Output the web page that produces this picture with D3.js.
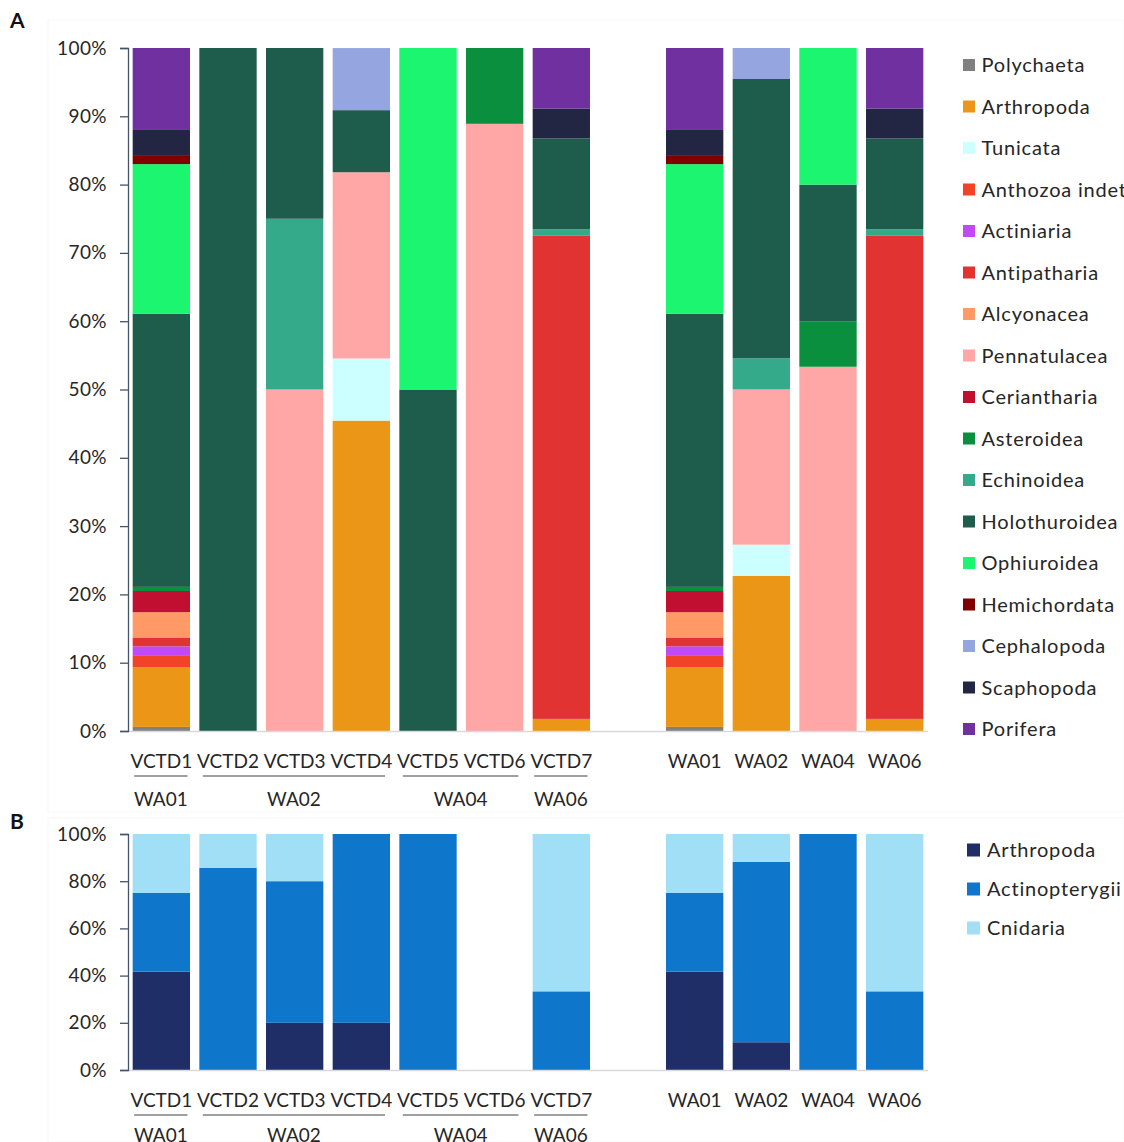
<!DOCTYPE html>
<html><head><meta charset="utf-8">
<script src="https://cdn.jsdelivr.net/npm/d3@7"></script>
<style>
body{margin:0;background:#fff;}
svg{display:block;font-family:Lato,"Open Sans",sans-serif;}
</style></head><body>
<div id="chart"></div>
<script>
// ---------- data ----------
const slots = ["VCTD1","VCTD2","VCTD3","VCTD4","VCTD5","VCTD6","VCTD7","gap","WA01","WA02","WA04","WA06"];
const taxaA = ["Polychaeta","Arthropoda","Tunicata","Anthozoa indet","Actiniaria","Antipatharia","Alcyonacea","Pennatulacea","Ceriantharia","Asteroidea","Echinoidea","Holothuroidea","Ophiuroidea","Hemichordata","Cephalopoda","Scaphopoda","Porifera"];
const colorsA = ["#808080","#EB9616","#CCFFFF","#F04327","#C04AF5","#E23333","#FF9966","#FFA6A6","#C00F31","#098F3E","#35AA8A","#1E5C4C","#1BF570","#800000","#95A5DF","#222643","#7030A0"];
// values (%) per taxon, in order of slots
const polychaeta    = [0.6,0,0,0,0,0,0,0,0.6,0,0,0];
const arthropodaA   = [8.7,0,0,45.45,0,0,1.77,0,8.7,22.73,0,1.77];
const tunicata      = [0,0,0,9.09,0,0,0,0,0,4.55,0,0];
const anthozoaIndet = [1.8,0,0,0,0,0,0,0,1.8,0,0,0];
const actiniaria    = [1.3,0,0,0,0,0,0,0,1.3,0,0,0];
const antipatharia  = [1.3,0,0,0,0,0,70.8,0,1.3,0,0,70.8];
const alcyonacea    = [3.7,0,0,0,0,0,0,0,3.7,0,0,0];
const pennatulacea  = [0,0,50,27.27,0,88.9,0,0,0,22.73,53.33,0];
const ceriantharia  = [3.1,0,0,0,0,0,0,0,3.1,0,0,0];
const asteroidea    = [0.6,0,0,0,0,11.1,0,0,0.6,0,6.67,0];
const echinoidea    = [0,0,25,0,0,0,0.88,0,0,4.55,0,0.88];
const holothuroidea = [40.0,100,25,9.09,50,0,13.3,0,40.0,40.9,20,13.3];
const ophiuroidea   = [21.9,0,0,0,50,0,0,0,21.9,0,20,0];
const hemichordata  = [1.2,0,0,0,0,0,0,0,1.2,0,0,0];
const cephalopoda   = [0,0,0,9.09,0,0,0,0,0,4.54,0,0];
const scaphopoda    = [3.8,0,0,0,0,0,4.4,0,3.8,0,0,4.4];
const porifera      = [12.0,0,0,0,0,0,8.85,0,12.0,0,0,8.85];
const seriesA = [polychaeta,arthropodaA,tunicata,anthozoaIndet,actiniaria,antipatharia,alcyonacea,pennatulacea,ceriantharia,asteroidea,echinoidea,holothuroidea,ophiuroidea,hemichordata,cephalopoda,scaphopoda,porifera];

const taxaB = ["Arthropoda","Actinopterygii","Cnidaria"];
const colorsB = ["#202E68","#0E77CB","#A0DFF6"];
const arthropodaB     = [41.67,0,20,20,0,0,0,0,41.67,11.76,0,0];
const actinopterygii  = [33.33,85.71,60,80,100,0,33.33,0,33.33,76.47,100,33.33];
const cnidaria        = [25,14.29,20,0,0,0,66.67,0,25,11.77,0,66.67];
const seriesB = [arthropodaB,actinopterygii,cnidaria];

const ticksA = [0,10,20,30,40,50,60,70,80,90,100];
const ticksB = [0,20,40,60,80,100];
const groups = [
  {label:"WA01", from:"VCTD1", to:"VCTD1"},
  {label:"WA02", from:"VCTD2", to:"VCTD4"},
  {label:"WA04", from:"VCTD5", to:"VCTD6"},
  {label:"WA06", from:"VCTD7", to:"VCTD7"}
];

// ---------- drawing ----------
const W = 1124, H = 1142;
const svg = d3.select("#chart").append("svg").attr("width",W).attr("height",H);
const textColor = "#262626";

// faint chart area frames
svg.append("rect").attr("x",48).attr("y",20).attr("width",W-48).attr("height",792)
  .attr("fill","none").attr("stroke","#f7f7f7");
svg.append("rect").attr("x",48).attr("y",818).attr("width",W-48).attr("height",H-818)
  .attr("fill","none").attr("stroke","#f7f7f7");

const x = d3.scaleBand().domain(slots).range([128,928]).paddingInner(0.14).paddingOuter(0.07);

function panel(series, colors, taxa, yRange, ticks, letter, letterY, legend, labelY, groupDy) {
  const y = d3.scaleLinear().domain([0,100]).range(yRange);
  const g = svg.append("g");

  // stacked bars
  const rows = slots.map((s,i)=>{ const o={slot:s}; series.forEach((arr,k)=>o[k]=arr[i]); return o; });
  const stack = d3.stack().keys(series.map((_,k)=>k))(rows);
  stack.forEach((layer,k)=>{
    g.append("g").attr("fill",colors[k]).selectAll("rect")
      .data(layer.filter(d=>d.data.slot!=="gap" && d[1]-d[0]>0))
      .join("rect")
      .attr("x",d=>x(d.data.slot))
      .attr("width",x.bandwidth())
      .attr("y",d=>y(d[1]))
      .attr("height",d=>y(d[0])-y(d[1]));
  });

  // x baseline
  g.append("line").attr("x1",128).attr("x2",928).attr("y1",yRange[0]+0.5).attr("y2",yRange[0]+0.5)
    .attr("stroke","#d9d9d9").attr("stroke-width",1.5);

  // y axis
  const ya = g.append("g").attr("transform","translate(128,0)")
    .call(d3.axisLeft(y).tickValues(ticks).tickFormat(d=>d+"%").tickSize(8).tickSizeOuter(8).tickPadding(13));
  ya.select(".domain").attr("stroke","#44546A").attr("stroke-width",1.3);
  ya.selectAll(".tick line").attr("stroke","#44546A").attr("stroke-width",1.3);
  ya.selectAll(".tick text").attr("font-size",19).attr("fill",textColor).attr("font-family","Lato")
    .attr("letter-spacing","0.4px");

  // x labels
  const xa = g.append("g").attr("transform",`translate(0,${labelY})`)
    .call(d3.axisBottom(x).tickValues(slots.filter(s=>s!=="gap")).tickSize(0).tickPadding(0));
  xa.select(".domain").remove();
  xa.selectAll(".tick text").attr("font-size",19).attr("fill",textColor).attr("font-family","Lato")
    .attr("dy","0.35em");

  // group underlines and labels
  groups.forEach(gr=>{
    const multi = gr.from!==gr.to;
    const x0 = x(gr.from)+(multi?3.5:1.5), x1 = x(gr.to)+x.bandwidth()-(multi?5:2.5);
    g.append("line").attr("x1",x0).attr("x2",x1).attr("y1",labelY+15).attr("y2",labelY+15)
      .attr("stroke","#404040").attr("stroke-width",1.2);
    g.append("text").attr("x",(x0+x1)/2).attr("y",labelY+groupDy).attr("text-anchor","middle")
      .attr("dy","0.35em").attr("font-size",19).attr("fill",textColor).text(gr.label);
  });

  // panel letter
  svg.append("text").attr("x",10).attr("y",letterY).attr("font-size",21).attr("font-weight","bold")
    .attr("fill","#111").attr("font-family","Lato").text(letter);

  // legend
  const lg = svg.append("g").selectAll("g").data(taxa).join("g")
    .attr("transform",(d,i)=>`translate(${legend.x},${legend.y+i*legend.step})`);
  lg.append("rect").attr("x",0).attr("y",-legend.sq/2).attr("width",legend.sq).attr("height",legend.sq)
    .attr("fill",(d,i)=>colors[i]);
  lg.append("text").attr("x",legend.tx).attr("dy","0.35em").attr("font-size",20)
    .attr("letter-spacing","0.8px").attr("fill",textColor).text(d=>d);
}

panel(seriesA, colorsA, taxaA, [731,48], ticksA, "A", 28, {x:963,y:65,step:41.5,sq:12,tx:18.5}, 761, 38);
panel(seriesB, colorsB, taxaB, [1070,834], ticksB, "B", 829, {x:967,y:850,step:39,sq:13,tx:20}, 1100, 35);
</script>
</body></html>
